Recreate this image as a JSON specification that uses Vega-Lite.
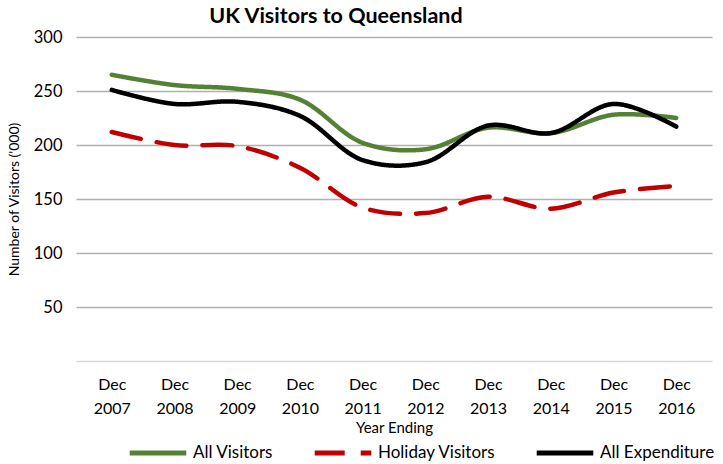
{
  "$schema": "https://vega.github.io/schema/vega-lite/v6.json",
  "autosize": {"type": "none"},
  "width": 636,
  "height": 324,
  "padding": {"left": 76, "top": 37, "right": 11, "bottom": 103},
  "background": "white",
  "config": {"font": "Lato", "view": {"stroke": null}},
  "title": {"text": "UK Visitors to Queensland", "fontSize": 21.5, "fontWeight": "bold", "font": "Lato", "color": "#000000", "anchor": "middle", "dx": -58, "offset": 2},
  "data": {"values": [
    {"year": "Dec 2007", "series": "All Visitors", "value": 265},
    {"year": "Dec 2008", "series": "All Visitors", "value": 255.5},
    {"year": "Dec 2009", "series": "All Visitors", "value": 252},
    {"year": "Dec 2010", "series": "All Visitors", "value": 242},
    {"year": "Dec 2011", "series": "All Visitors", "value": 202},
    {"year": "Dec 2012", "series": "All Visitors", "value": 196},
    {"year": "Dec 2013", "series": "All Visitors", "value": 216},
    {"year": "Dec 2014", "series": "All Visitors", "value": 211},
    {"year": "Dec 2015", "series": "All Visitors", "value": 228},
    {"year": "Dec 2016", "series": "All Visitors", "value": 225},
    {"year": "Dec 2007", "series": "Holiday Visitors", "value": 212},
    {"year": "Dec 2008", "series": "Holiday Visitors", "value": 200},
    {"year": "Dec 2009", "series": "Holiday Visitors", "value": 199},
    {"year": "Dec 2010", "series": "Holiday Visitors", "value": 179},
    {"year": "Dec 2011", "series": "Holiday Visitors", "value": 142},
    {"year": "Dec 2012", "series": "Holiday Visitors", "value": 137},
    {"year": "Dec 2013", "series": "Holiday Visitors", "value": 152},
    {"year": "Dec 2014", "series": "Holiday Visitors", "value": 141},
    {"year": "Dec 2015", "series": "Holiday Visitors", "value": 156},
    {"year": "Dec 2016", "series": "Holiday Visitors", "value": 162},
    {"year": "Dec 2007", "series": "All Expenditure", "value": 251},
    {"year": "Dec 2008", "series": "All Expenditure", "value": 238},
    {"year": "Dec 2009", "series": "All Expenditure", "value": 240},
    {"year": "Dec 2010", "series": "All Expenditure", "value": 227},
    {"year": "Dec 2011", "series": "All Expenditure", "value": 186},
    {"year": "Dec 2012", "series": "All Expenditure", "value": 184},
    {"year": "Dec 2013", "series": "All Expenditure", "value": 218},
    {"year": "Dec 2014", "series": "All Expenditure", "value": 211},
    {"year": "Dec 2015", "series": "All Expenditure", "value": 238},
    {"year": "Dec 2016", "series": "All Expenditure", "value": 217}
  ]},
  "mark": {"type": "line", "interpolate": "catmull-rom", "strokeWidth": 4.5, "strokeCap": "round"},
  "encoding": {
    "x": {
      "field": "year", "type": "ordinal", "sort": null,
      "scale": {"type": "point", "padding": 0.57},
      "axis": {
        "title": "Year Ending", "titleFontSize": 15, "titleFontWeight": "normal", "titleColor": "#000000", "titlePadding": 4,
        "labelExpr": "split(datum.label, ' ')", "labelAngle": 0, "labelFontSize": 16, "labelColor": "#000000",
        "labelLineHeight": 24, "labelPadding": 15, "labelBaseline": "top",
        "ticks": false, "grid": false, "domainColor": "#d9d9d9", "domainWidth": 1.5
      }
    },
    "y": {
      "field": "value", "type": "quantitative",
      "scale": {"domain": [0, 300], "nice": false},
      "axis": {
        "title": "Number of Visitors ('000)", "titleFontSize": 14, "titleFontWeight": "normal", "titleColor": "#000000", "titlePadding": 12,
        "values": [50, 100, 150, 200, 250, 300], "labelFontSize": 16.5, "labelColor": "#000000", "labelPadding": 14,
        "ticks": false, "domain": false, "gridColor": "#b0b0b0", "gridWidth": 1.5
      }
    },
    "color": {
      "field": "series", "type": "nominal",
      "scale": {"domain": ["All Visitors", "Holiday Visitors", "All Expenditure"], "range": ["#548235", "#c00000", "#000000"]},
      "legend": {
        "title": null, "orient": "none", "legendX": 51, "legendY": 385, "direction": "horizontal",
        "symbolType": "stroke", "symbolSize": 3200, "symbolStrokeWidth": 5, "labelFontSize": 17, "labelColor": "#000000",
        "columnPadding": 30, "labelOffset": 4, "labelLimit": 200
      }
    },
    "strokeDash": {
      "field": "series", "type": "nominal",
      "scale": {"domain": ["All Visitors", "Holiday Visitors", "All Expenditure"], "range": [[1, 0], [30, 16], [1, 0]]},
      "legend": null
    }
  }
}
